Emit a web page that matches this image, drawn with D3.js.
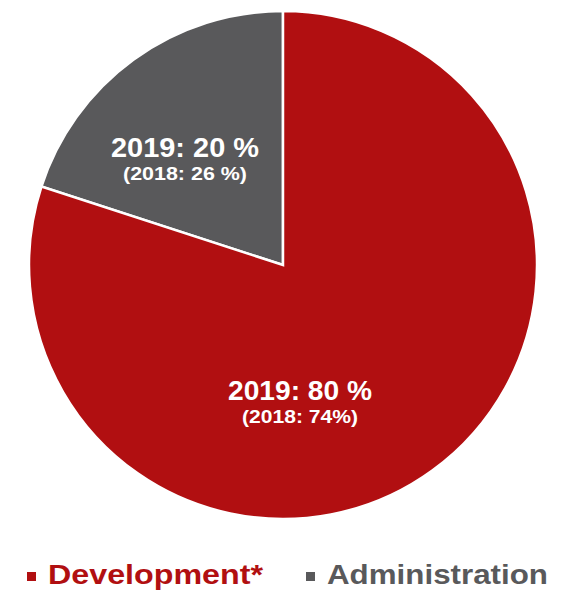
<!DOCTYPE html>
<html>
<head>
<meta charset="utf-8">
<script src="https://cdn.jsdelivr.net/npm/d3@7"></script>
<style>
  html, body { margin: 0; padding: 0; background: #fff; }
  svg { display: block; }
  text { font-family: "Liberation Sans", Arial, sans-serif; font-weight: bold; }
</style>
</head>
<body>
<svg id="chart" width="564" height="594"></svg>
<script>
// Cost split, 2019 shares with 2018 comparison
const categories = ["Development*", "Administration"];
const share2019 = [80, 20];
const share2018 = [74, 26];
const colors = ["#B10F11", "#59595B"];

const svg = d3.select("#chart");
const cx = 283, cy = 265, radius = 254;

const pie = d3.pie()
  .sort(null)
  .startAngle(-2 * Math.PI * share2019[1] / 100)
  .endAngle(2 * Math.PI - 2 * Math.PI * share2019[1] / 100)
  .value(d => d);

// Administration first so it sits just left of 12 o'clock
const order = [1, 0];
const arcs = pie(order.map(i => share2019[i]));
const arc = d3.arc().innerRadius(0).outerRadius(radius);

const g = svg.append("g").attr("transform", `translate(${cx},${cy})`);

g.selectAll("path")
  .data(arcs)
  .join("path")
  .attr("d", arc)
  .attr("fill", (d, k) => colors[order[k]])
  .attr("stroke", "#fff")
  .attr("stroke-width", 2.5)
  .attr("stroke-linejoin", "miter");

// Slice labels
const labelPos = { 0: [17, 135], 1: [-98, -108] };
const labelFmt18 = [v => `(2018: ${v}%)`, v => `(2018: ${v} %)`];
const mainWidth = [144, 148];
const subWidth = [116, 124];

order.forEach((i, k) => {
  const [lx, ly] = labelPos[i];
  g.append("text")
    .attr("x", lx).attr("y", ly)
    .attr("text-anchor", "middle")
    .attr("fill", "#fff")
    .attr("font-size", 27)
    .attr("textLength", mainWidth[i])
    .attr("lengthAdjust", "spacingAndGlyphs")
    .text(`2019: ${share2019[i]} %`);
  g.append("text")
    .attr("x", lx).attr("y", ly + 23)
    .attr("text-anchor", "middle")
    .attr("fill", "#fff")
    .attr("font-size", 18)
    .attr("textLength", subWidth[i])
    .attr("lengthAdjust", "spacingAndGlyphs")
    .text(labelFmt18[i](share2018[i]));
});

// Legend
const legendX = [27, 306];
const legendW = [215, 221];
const legend = svg.append("g");
categories.forEach((name, i) => {
  legend.append("rect")
    .attr("x", legendX[i]).attr("y", 572)
    .attr("width", 9).attr("height", 9)
    .attr("fill", colors[i]);
  legend.append("text")
    .attr("x", legendX[i] + 21).attr("y", 584)
    .attr("fill", colors[i])
    .attr("font-size", 28)
    .attr("textLength", legendW[i])
    .attr("lengthAdjust", "spacingAndGlyphs")
    .text(name);
});
</script>
</body>
</html>
